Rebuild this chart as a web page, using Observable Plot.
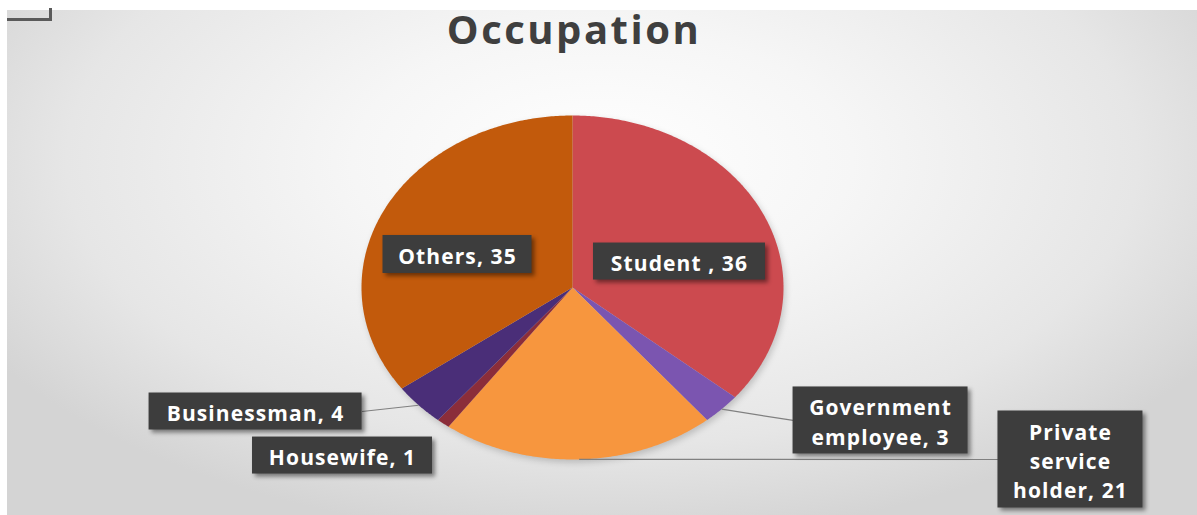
<!DOCTYPE html>
<html>
<head>
<meta charset="utf-8">
<script src="https://cdn.jsdelivr.net/npm/d3@7"></script>
<script src="https://cdn.jsdelivr.net/npm/@observablehq/plot@0.6"></script>
<style>
  html, body { margin: 0; padding: 0; background: #ffffff; }
  #wrap { position: relative; width: 1197px; height: 515px; overflow: hidden; }
  #bg { position: absolute; left: 7px; top: 10px; right: 0; bottom: 0;
        background: radial-gradient(ellipse 60% 75% at 50% 30%, #ffffff 0%, #f6f6f6 35%, #e6e6e6 75%, #d4d4d4 100%); }
  #corner { position: absolute; left: 7px; top: 8px; width: 42px; height: 10px;
            border-right: 3px solid #5a5a5a; border-bottom: 3px solid #5a5a5a; }
  #chart { position: absolute; left: 0; top: 0; }
  #chart svg { background: transparent; overflow: visible; }
  #chart g[aria-label="rect"] rect { filter: drop-shadow(3px 3px 2px rgba(0,0,0,0.45)); }
  #chart g[aria-label="line"] { filter: drop-shadow(2px 3px 3px rgba(0,0,0,0.18)); }
  #chart g[aria-label="text"] text { letter-spacing: 1.1px; }
  #chart g[aria-label="text"]:last-of-type text { letter-spacing: 2.5px; }
</style>
</head>
<body>
<div id="wrap"><div id="bg"></div><div id="corner"></div><div id="chart"></div></div>
<script>
// ---- data ----
const title = "Occupation";
const categories = ["Student ", "Government employee", "Private service holder", "Housewife", "Businessman", "Others"];
const values = [36, 3, 21, 1, 4, 35];
const labelTexts = ["Student , 36", "Government\nemployee, 3", "Private\nservice\nholder, 21", "Housewife, 1", "Businessman, 4", "Others, 35"];
const colors = ["#cc4a4f", "#7b55b0", "#f7963e", "#8b2d3a", "#4a2e78", "#c25a0c"];

// ---- layout (label box centres in pie units, box sizes in px) ----
const labelU = [0.507, 1.460, 2.360, -1.090, -1.502, -0.545];
const labelV = [0.151, -0.773, -1.000, -0.977, -0.721, 0.192];
const boxW = [172, 175, 145, 180, 213, 149];
const boxH = [37, 67, 97, 37, 37, 38];
const leader = [false, true, true, false, true, false];

const CX = 572, CY = 287, RX = 211, RY = 172;

const arcs = d3.pie().sort(null).value(d => d)(values);
const slicePts = [];
arcs.forEach((a, i) => {
  slicePts.push({cat: categories[i], u: 0, v: 0});
  const n = Math.max(4, Math.ceil((a.endAngle - a.startAngle) / 0.01));
  for (let k = 0; k <= n; k++) {
    const t = a.startAngle + (a.endAngle - a.startAngle) * k / n;
    slicePts.push({cat: categories[i], u: Math.sin(t), v: Math.cos(t)});
  }
});

const labels = categories.map((c, i) => ({
  cat: c, text: labelTexts[i], u: labelU[i], v: labelV[i],
  hw: boxW[i] / 2 / RX, hh: boxH[i] / 2 / RY
}));

const links = [];
arcs.forEach((a, i) => {
  if (!leader[i]) return;
  const m = (a.startAngle + a.endAngle) / 2;
  const L = labels[i];
  const su = Math.sin(m), sv = Math.cos(m);
  const eu = L.u > su ? L.u - L.hw : L.u + L.hw;
  links.push({u1: su, v1: sv, u2: eu, v2: L.v});
});

const chart = Plot.plot({
  width: 1197, height: 515, margin: 0,
  x: {domain: [-1, 1], range: [CX - RX, CX + RX], axis: null},
  y: {domain: [-1, 1], range: [CY + RY, CY - RY], axis: null},
  color: {domain: categories, range: colors},
  style: {fontFamily: "'Open Sans', sans-serif", background: "transparent"},
  marks: [
    Plot.line(slicePts, {x: "u", y: "v", z: "cat", fill: "cat", stroke: "none", curve: "linear-closed"}),
    Plot.link(links, {x1: "u1", y1: "v1", x2: "u2", y2: "v2", stroke: "#808080", strokeWidth: 1.2}),
    Plot.rect(labels, {x1: d => d.u - d.hw, x2: d => d.u + d.hw, y1: d => d.v - d.hh, y2: d => d.v + d.hh, fill: "#3d3d3d"}),
    Plot.text(labels, {x: "u", y: "v", text: "text", fill: "white", fontWeight: "bold", fontSize: 21, lineHeight: 1.4, textAnchor: "middle"}),
    Plot.text([title], {frameAnchor: "top", dx: -25, dy: 31, text: d => d, fontSize: 40, fontWeight: "bold", fill: "#3f3f3f", lineAnchor: "middle"})
  ]
});
document.getElementById("chart").appendChild(chart);
</script>
</body>
</html>
